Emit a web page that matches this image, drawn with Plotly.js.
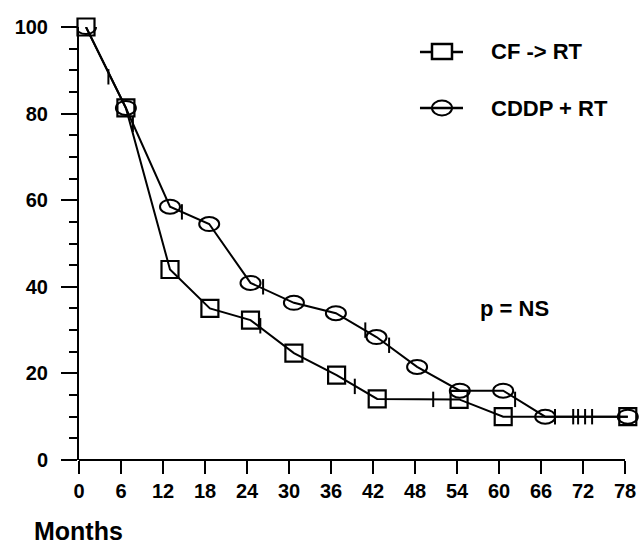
<!DOCTYPE html>
<html>
<head>
<meta charset="utf-8">
<script src="https://cdn.plot.ly/plotly-3.0.1.min.js"></script>
<style>html,body{margin:0;padding:0;background:#fff;}#chart{width:639px;height:548px;}</style>
</head>
<body>
<div id="chart"></div>
<script>
// CF -> RT (squares)
var cfMonths = [1, 6.7, 13, 18.7, 24.5, 30.7, 36.8, 42.6, 54.3, 60.6, 78.4];
var cfSurv   = [100, 81.3, 44, 35, 32.3, 24.7, 19.6, 14.1, 14, 10, 10];
// CDDP + RT (circles)
var cdMonths = [1, 6.7, 13, 18.6, 24.5, 30.7, 36.7, 42.5, 48.3, 54.4, 60.6, 66.6, 78.4];
var cdSurv   = [100, 81.3, 58.5, 54.5, 40.9, 36.3, 33.9, 28.4, 21.5, 16, 16, 10, 10];
// censor marks
var censMonths = [4.2, 7.7, 14.7, 25.9, 26.3, 39.4, 40.9, 44.3, 50.6, 62.3, 68, 70.6, 71.3, 72.3, 73.3];
var censSurv   = [88.5, 77.5, 57.3, 31, 40, 17, 30, 26.5, 14, 14, 10, 10, 10, 10, 10];
var xTicks = [0, 6, 12, 18, 24, 30, 36, 42, 48, 54, 60, 66, 72, 78];
var yTicks = [0, 20, 40, 60, 80, 100];
var seriesNames = ['CF -> RT', 'CDDP + RT'];

var FONT = 'Liberation Sans, Arial, Helvetica, sans-serif';
var xRange = [0, 80];

var traces = [
  {x: cfMonths, y: cfSurv, name: seriesNames[0], mode: 'lines+markers',
   line: {color: '#000', width: 2},
   marker: {symbol: 'square-open', size: 17, color: '#000', line: {width: 2.2, color: '#000'}},
   cliponaxis: false},
  {x: cdMonths, y: cdSurv, name: seriesNames[1], mode: 'lines',
   line: {color: '#000', width: 2}, cliponaxis: false},
  {x: censMonths, y: censSurv, mode: 'markers',
   marker: {symbol: 'line-ns', size: 11, color: '#000', line: {width: 2, color: '#000'}},
   cliponaxis: false}
];

var shapes = [];
// elliptical open circles for CDDP + RT, anchored at data points
for (var i = 0; i < cdMonths.length; i++) {
  shapes.push({type: 'circle', xref: 'x', yref: 'y', xsizemode: 'pixel', ysizemode: 'pixel',
    xanchor: cdMonths[i], yanchor: cdSurv[i], x0: -10, x1: 10, y0: -7, y1: 7,
    line: {color: '#000', width: 2}, layer: 'above'});
}
// x axis line ending at the last tick
shapes.push({type: 'line', xref: 'paper', yref: 'paper', x0: 0, x1: xTicks[xTicks.length - 1] / xRange[1],
  y0: 0, y1: 0, line: {color: '#000', width: 2}});
// manual legend
var legY = [0.9423, 0.8129];
[0, 1].forEach(function (k) {
  shapes.push({type: 'line', xref: 'paper', yref: 'paper', x0: 0.6089, x1: 0.6857, y0: legY[k], y1: legY[k],
    line: {color: '#000', width: 2.5}});
});
shapes.push({type: 'rect', xref: 'paper', yref: 'paper', xsizemode: 'pixel', ysizemode: 'pixel',
  xanchor: 0.6482, yanchor: legY[0], x0: -10, x1: 10, y0: -7, y1: 8,
  fillcolor: '#fff', line: {color: '#000', width: 2.5}});
shapes.push({type: 'circle', xref: 'paper', yref: 'paper', xsizemode: 'pixel', ysizemode: 'pixel',
  xanchor: 0.6482, yanchor: legY[1], x0: -10, x1: 10, y0: -7.5, y1: 7.5,
  line: {color: '#000', width: 2}});

var annFont = {family: FONT, size: 22, color: '#000', weight: 'bold'};
var annotations = [
  {text: seriesNames[0], xref: 'paper', yref: 'paper', x: 0.7321, y: legY[0], xanchor: 'left', yanchor: 'middle',
   showarrow: false, font: annFont},
  {text: seriesNames[1], xref: 'paper', yref: 'paper', x: 0.7321, y: legY[1], xanchor: 'left', yanchor: 'middle',
   showarrow: false, font: annFont},
  {text: 'p = NS', xref: 'paper', yref: 'paper', x: 0.777, y: 0.349, xanchor: 'center', yanchor: 'middle',
   showarrow: false, font: annFont},
  {text: 'Months', xref: 'paper', yref: 'paper', x: -0.082, y: -0.198, xanchor: 'left', yanchor: 'bottom',
   showarrow: false, borderpad: 0, font: {family: FONT, size: 25, color: '#000', weight: 'bold'}}
];

var layout = {
  width: 639, height: 548,
  margin: {l: 79, r: 0, t: 27, b: 88},
  paper_bgcolor: '#fff', plot_bgcolor: '#fff',
  font: {family: FONT, color: '#000', size: 20, weight: 'bold'},
  showlegend: false,
  xaxis: {range: xRange, tickvals: xTicks, ticktext: xTicks.map(String),
          showgrid: false, zeroline: false, showline: false,
          ticks: 'outside', ticklen: 13, tickwidth: 2, tickcolor: '#000',
          tickfont: {family: FONT, size: 20, color: '#000', weight: 'bold'}},
  yaxis: {range: [0, 100], tickvals: yTicks, ticktext: yTicks.map(String),
          showgrid: false, zeroline: false, showline: true, linecolor: '#000', linewidth: 2,
          ticks: 'outside', ticklen: 16, tickwidth: 2, tickcolor: '#000', ticklabelstandoff: 9,
          minor: {dtick: 5, ticks: 'outside', ticklen: 8, tickwidth: 2, tickcolor: '#000', showgrid: false},
          tickfont: {family: FONT, size: 20, color: '#000', weight: 'bold'}},
  shapes: shapes,
  annotations: annotations
};

Plotly.newPlot('chart', traces, layout, {displayModeBar: false, staticPlot: true});
</script>
</body>
</html>
